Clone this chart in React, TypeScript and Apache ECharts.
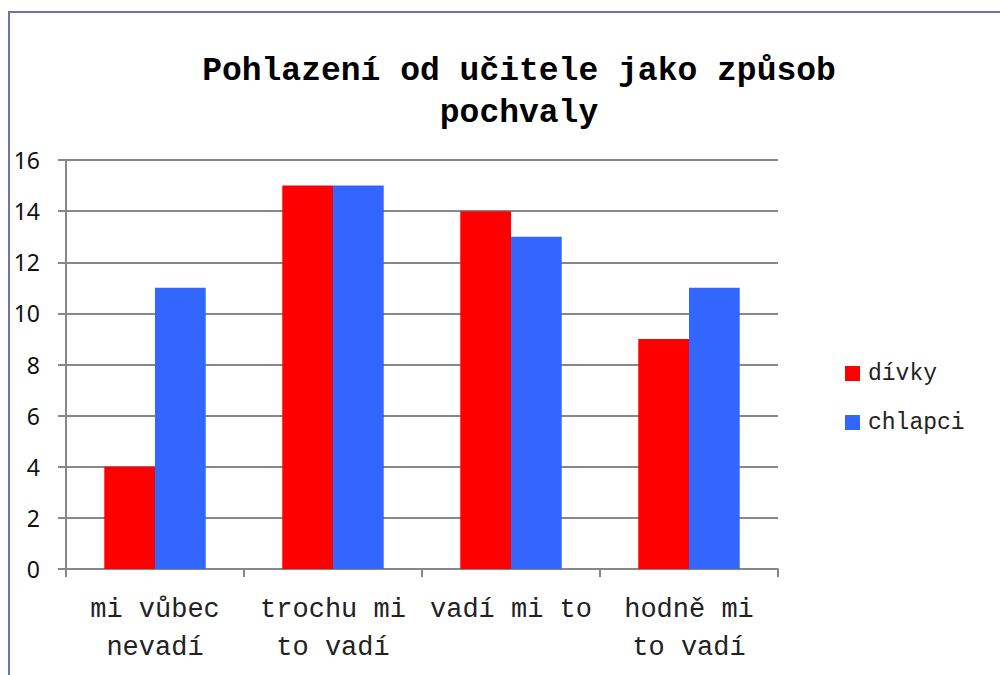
import React, { useEffect, useRef } from "react";
import * as echarts from "echarts";

const categories = ["mi vůbec\nnevadí", "trochu mi\nto vadí", "vadí mi to", "hodně mi\nto vadí"];
const divky = [4, 15, 14, 9];
const chlapci = [11, 15, 13, 11];
const titleText = "Pohlazení od učitele jako způsob\npochvaly";
const MONO = "'Liberation Mono', 'Courier New', monospace";

export default function App() {
  const ref = useRef<HTMLDivElement>(null);
  useEffect(() => {
    const chart = echarts.init(ref.current!, null, { renderer: "svg" });
    chart.setOption({
      animation: false,
      backgroundColor: "#ffffff",
      graphic: [
        {
          type: "rect",
          shape: { x: 9, y: 12, width: 1200, height: 900 },
          style: { fill: "none", stroke: "#7272aa", lineWidth: 2 },
          silent: true,
        },
      ],
      title: {
        text: titleText,
        left: 514,
        top: 45,
        textAlign: "center",
        textStyle: {
          fontFamily: MONO,
          fontWeight: "bold",
          fontSize: 33,
          lineHeight: 42,
          color: "#000",
        },
      },
      legend: {
        orient: "vertical",
        left: 840,
        top: 357,
        itemWidth: 15,
        itemHeight: 15,
        itemGap: 26,
        icon: "rect",
        textStyle: { fontFamily: MONO, fontSize: 23, color: "#222", padding: [0, 0, 0, 3] },
        data: ["dívky", "chlapci"],
      },
      grid: { left: 66, top: 160, right: 222, bottom: 106, containLabel: false },
      xAxis: {
        type: "category",
        data: categories,
        axisLine: { show: true, lineStyle: { color: "#888", width: 2 } },
        axisTick: { show: true, length: 8, lineStyle: { color: "#888", width: 2 } },
        axisLabel: {
          fontFamily: MONO,
          fontSize: 27,
          lineHeight: 38,
          color: "#222",
          margin: 22,
          interval: 0,
        },
      },
      yAxis: {
        type: "value",
        min: 0,
        max: 16,
        interval: 2,
        axisLine: { show: true, lineStyle: { color: "#888", width: 2 } },
        axisTick: { show: true, length: 8, lineStyle: { color: "#888", width: 2 } },
        splitLine: { show: true, lineStyle: { color: "#888", width: 2 } },
        axisLabel: {
          fontFamily: "'Noto Sans', sans-serif",
          fontSize: 23,
          color: "#111",
          margin: 26,
        },
      },
      series: [
        {
          name: "dívky",
          type: "bar",
          data: divky,
          itemStyle: { color: "#ff0000" },
          barGap: "0%",
          barCategoryGap: "43%",
        },
        {
          name: "chlapci",
          type: "bar",
          data: chlapci,
          itemStyle: { color: "#3366ff" },
          barGap: "0%",
          barCategoryGap: "43%",
        },
      ],
    });
    return () => chart.dispose();
  }, []);
  return (
    <div
      ref={ref}
      style={{ position: "fixed", left: 0, top: 0, width: 1000, height: 675 }}
    />
  );
}
